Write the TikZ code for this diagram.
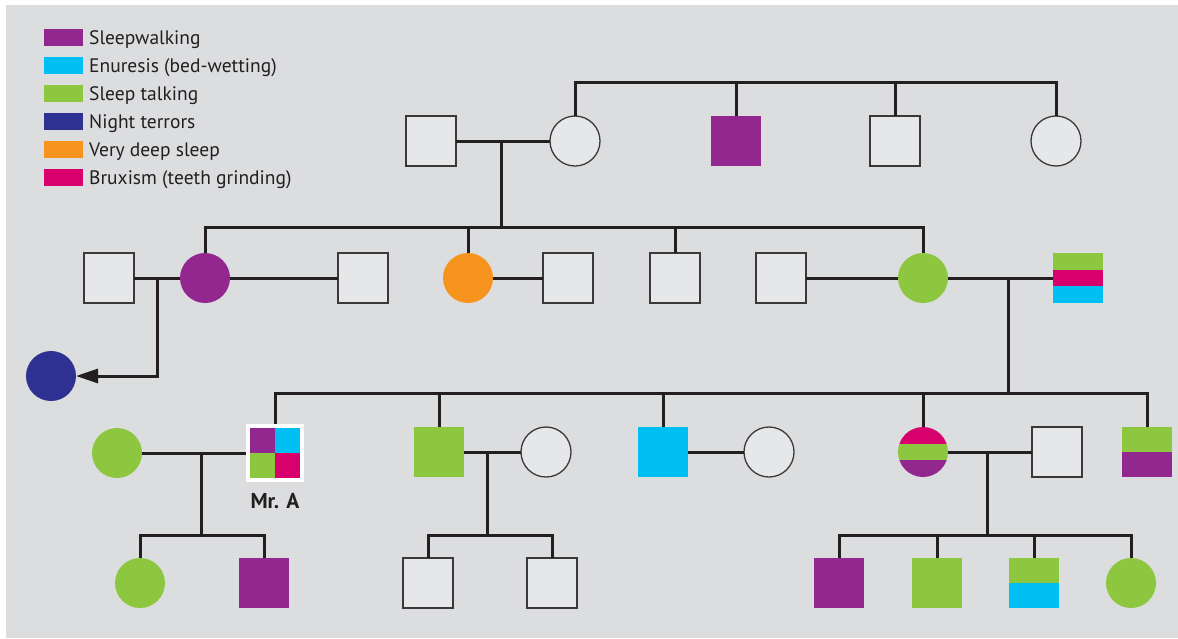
\documentclass[tikz,border=0pt]{standalone}
\usepackage{fontspec}
\setmainfont{PT Sans}
\usetikzlibrary{arrows.meta}
\definecolor{bgc}{HTML}{DCDDDF}
\definecolor{unaff}{HTML}{E6E7E8}
\definecolor{outl}{HTML}{3A3838}
\definecolor{linec}{HTML}{231F20}
\definecolor{cpur}{HTML}{92278F}
\definecolor{ccya}{HTML}{00BFF3}
\definecolor{cgrn}{HTML}{8DC63F}
\definecolor{cnav}{HTML}{2E3192}
\definecolor{cora}{HTML}{F7941D}
\definecolor{cmag}{HTML}{D7006C}
\tikzset{
  base/.style={minimum size=50pt, inner sep=0pt, outer sep=0pt},
  sq/.style={base, rectangle, draw=outl, line width=1.5pt, fill=unaff},
  ci/.style={base, circle, draw=outl, line width=1.3pt, fill=unaff},
  sqa/.style={base, rectangle, fill=#1},
  cia/.style={base, circle, fill=#1},
  halves/.style 2 args={path picture={
     \fill[#1] (path picture bounding box.north west) rectangle (path picture bounding box.east);
     \fill[#2] (path picture bounding box.west) rectangle (path picture bounding box.south east);}},
  stripes/.style n args={3}{path picture={
     \fill[#1] (path picture bounding box.north west) rectangle ([yshift=-16.667pt]path picture bounding box.north east);
     \fill[#2] ([yshift=-16.667pt]path picture bounding box.north west) rectangle ([yshift=16.667pt]path picture bounding box.south east);
     \fill[#3] ([yshift=16.667pt]path picture bounding box.south west) rectangle (path picture bounding box.south east);}},
  link/.style={draw=linec, line width=3pt},
  swatch/.style={rectangle, minimum width=39pt, minimum height=17pt, inner sep=0pt, fill=#1},
  legtext/.style={anchor=base west, inner sep=0pt, text=linec, font=\fontsize{19.5}{21}\selectfont},
}
\begin{document}
\begin{tikzpicture}[x=1pt,y=-1pt]
\useasboundingbox (0,0) rectangle (1178,638);
\fill[bgc] (6,5) rectangle (1178,638);

% legend
\foreach \i/\c/\t in {0/cpur/Sleepwalking,1/ccya/Enuresis (bed-wetting),2/cgrn/Sleep talking,3/cnav/Night terrors,4/cora/Very deep sleep,5/cmag/Bruxism (teeth grinding)}{
  \node[swatch=\c] (lg\i) at (63.5,37.5+28*\i) {};
  \node[legtext] (lt\i) at (89,44.5+28*\i) {\t};
}

% levels
\coordinate (L1) at (0,82);
\coordinate (L2) at (0,227);
\coordinate (L3) at (0,393);
\coordinate (L4) at (0,535);

% generation I
\node[sq] (I1) at (431,141) {};
\node[ci] (I2) at (575,141) {};
\node[sqa=cpur] (I3) at (736,141) {};
\node[sq] (I4) at (895,141) {};
\node[ci] (I5) at (1056,141) {};

% generation II
\node[sq] (II1) at (109,278) {};
\node[cia=cpur] (II2) at (205,278) {};
\node[sq] (II3) at (363,278) {};
\node[cia=cora] (II4) at (468,278) {};
\node[sq] (II5) at (568,278) {};
\node[sq] (II6) at (675,278) {};
\node[sq] (II7) at (781,278) {};
\node[cia=cgrn] (II8) at (923,278) {};
\node[base, rectangle, stripes={cgrn}{cmag}{ccya}] (II9) at (1078,278) {};
\node[cia=cnav] (N) at (51,376) {};

% generation III
\node[cia=cgrn] (III1) at (117,453) {};
\node[base, rectangle, minimum size=58pt, fill=white, path picture={
   \fill[cpur] ([shift={(4pt,-4pt)}]path picture bounding box.north west) rectangle (path picture bounding box.center);
   \fill[ccya] (path picture bounding box.center) rectangle ([shift={(-4pt,-4pt)}]path picture bounding box.north east);
   \fill[cgrn] ([shift={(4pt,4pt)}]path picture bounding box.south west) rectangle (path picture bounding box.center);
   \fill[cmag] (path picture bounding box.center) rectangle ([shift={(-4pt,4pt)}]path picture bounding box.south east);}] (III2) at (275,453) {};
\node[font=\fontsize{21.5}{23}\selectfont\bfseries, text=linec, inner sep=0pt] (MrA) at (275,501) {Mr. A};
\node[sqa=cgrn] (III3) at (439,452) {};
\node[ci] (III4) at (546,452) {};
\node[sqa=ccya] (III5) at (663,452) {};
\node[ci] (III6) at (769,452) {};
\node[base, circle, stripes={cmag}{cgrn}{cpur}] (III7) at (923,452) {};
\node[sq] (III8) at (1057,452) {};
\node[base, rectangle, halves={cgrn}{cpur}] (III9) at (1147,452) {};

% generation IV
\node[cia=cgrn] (IV1) at (140,583) {};
\node[sqa=cpur] (IV2) at (264,583) {};
\node[sq] (IV3) at (428,583) {};
\node[sq] (IV4) at (552,583) {};
\node[sqa=cpur] (IV5) at (839,583) {};
\node[sqa=cgrn] (IV6) at (937,583) {};
\node[base, rectangle, halves={cgrn}{ccya}] (IV7) at (1034,583) {};
\node[cia=cgrn] (IV8) at (1131,583) {};

% marriage points
\coordinate (m1) at (501,141);
\coordinate (m2) at (157,278);
\coordinate (m3) at (1008,278);
\coordinate (m4) at (201,453);
\coordinate (m5) at (487,452);
\coordinate (m6) at (987,452);
\coordinate (nb) at (157,376);

% generation I sibship
\draw[link] (I2.north) -- (I2 |- L1) -- (I5 |- L1) -- (I5.north);
\draw[link] (I3.north) -- (I3 |- L1);
\draw[link] (I4.north) -- (I4 |- L1);
% couple I
\draw[link] (I1.east) -- (I2.west);
\draw[link] (m1) -- (m1 |- L2);
\draw[link] (II2.north) -- (II2 |- L2) -- (II8 |- L2) -- (II8.north);
\draw[link] (II4.north) -- (II4 |- L2);
\draw[link] (II6.north) -- (II6 |- L2);
% couples II
\draw[link] (II1.east) -- (II2.west);
\draw[link] (II2.east) -- (II3.west);
\draw[link] (II4.east) -- (II5.west);
\draw[link] (II7.east) -- (II8.west);
\draw[link] (II8.east) -- (II9.west);
\draw[link, -{Triangle[length=22pt,width=14pt]}] (m2) -- (nb) -- (N.east);
\draw[link] (m3) -- (m3 |- L3);
\draw[link] (III2.north) -- (III2 |- L3) -- (III9 |- L3) -- (III9.north);
\draw[link] (III3.north) -- (III3 |- L3);
\draw[link] (III5.north) -- (III5 |- L3);
\draw[link] (III7.north) -- (III7 |- L3);
% couples III
\draw[link] (III1.east) -- (III2.west);
\draw[link] (III3.east) -- (III4.west);
\draw[link] (III5.east) -- (III6.west);
\draw[link] (III7.east) -- (III8.west);
\draw[link] (m4) -- (m4 |- L4);
\draw[link] (m5) -- (m5 |- L4);
\draw[link] (m6) -- (m6 |- L4);
% generation IV sibships
\draw[link] (IV1.north) -- (IV1 |- L4) -- (IV2 |- L4) -- (IV2.north);
\draw[link] (IV3.north) -- (IV3 |- L4) -- (IV4 |- L4) -- (IV4.north);
\draw[link] (IV5.north) -- (IV5 |- L4) -- (IV8 |- L4) -- (IV8.north);
\draw[link] (IV6.north) -- (IV6 |- L4);
\draw[link] (IV7.north) -- (IV7 |- L4);
\end{tikzpicture}
\end{document}
